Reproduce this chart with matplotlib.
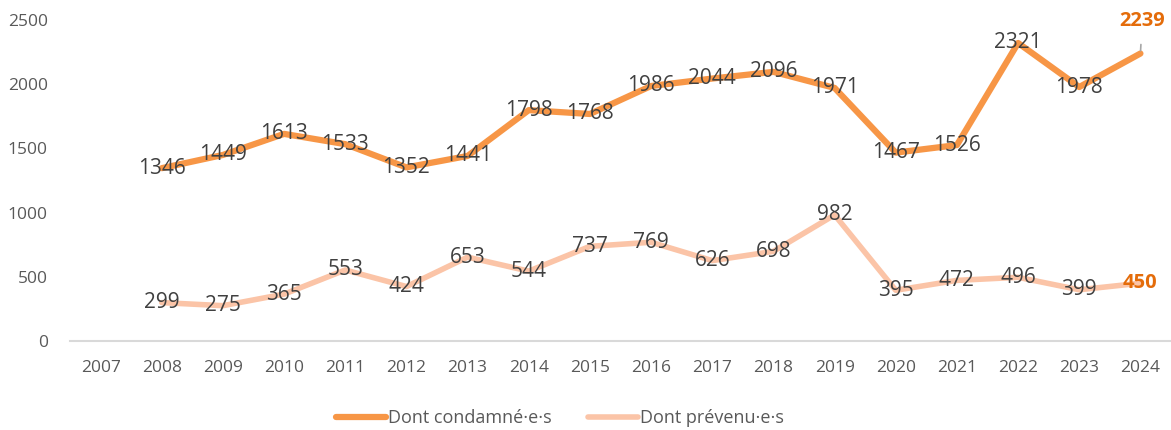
import matplotlib.pyplot as plt
import numpy as np

plt.rcParams['font.family'] = ['Open Sans', 'DejaVu Sans']

years = [str(y) for y in range(2007, 2025)]
condamnes = [None, 1346, 1449, 1613, 1533, 1352, 1441, 1798, 1768, 1986,
             2044, 2096, 1971, 1467, 1526, 2321, 1978, 2239]
prevenus = [None, 299, 275, 365, 553, 424, 653, 544, 737, 769,
            626, 698, 982, 395, 472, 496, 399, 450]

dark = '#F79646'
light = '#FBC4A7'
accent = '#E46C0A'
txt = '#404040'

fig = plt.figure(figsize=(11.71, 4.30), dpi=100)
ax = fig.add_axes([0.0598, 0.207, 0.9402, 0.7465])

x = np.arange(len(years))
c = np.array([np.nan if v is None else v for v in condamnes], dtype=float)
p = np.array([np.nan if v is None else v for v in prevenus], dtype=float)

ax.plot(x, c, color=dark, lw=4.5, solid_capstyle='round', solid_joinstyle='round',
        label='Dont condamné·e·s', zorder=2)
ax.plot(x, p, color=light, lw=4.0, solid_capstyle='round', solid_joinstyle='round',
        label='Dont prévenu·e·s', zorder=2)

last = len(years) - 1
for i in range(len(years)):
    for vals in (condamnes, prevenus):
        v = vals[i]
        if v is None or i == last:
            continue
        ax.text(i, v, str(v), ha='center', va='center', fontsize=15, color=txt, zorder=3)

# last values highlighted
ax.annotate(str(condamnes[last]), xy=(last, condamnes[last]), xytext=(last + 0.03, 2495),
            ha='center', va='center', fontsize=14.5, fontweight='bold', color=accent,
            arrowprops=dict(arrowstyle='-', color='#A6A6A6', lw=1.2, shrinkA=8, shrinkB=2),
            zorder=3)
ax.text(last, prevenus[last], str(prevenus[last]), ha='center', va='center',
        fontsize=14.5, fontweight='bold', color=accent, zorder=3)

ax.set_xlim(-0.5, len(years) - 0.5)
ax.set_ylim(0, 2500)
ax.set_yticks(range(0, 2501, 500))
ax.set_xticks(x)
ax.set_xticklabels(years)
ax.tick_params(axis='both', length=0, labelsize=12.5, colors='#595959')
ax.tick_params(axis='y', pad=16)
ax.tick_params(axis='x', pad=14)

for s in ['top', 'right', 'left']:
    ax.spines[s].set_visible(False)
ax.spines['bottom'].set_color('#D9D9D9')
ax.spines['bottom'].set_linewidth(1.5)

fig.legend(loc='center', bbox_to_anchor=(0.478, 0.028), ncol=2, frameon=False,
           fontsize=13, handlelength=2.8, handletextpad=0.1, columnspacing=2.0,
           labelcolor='#595959')

fig.savefig('out.png', dpi=100)
